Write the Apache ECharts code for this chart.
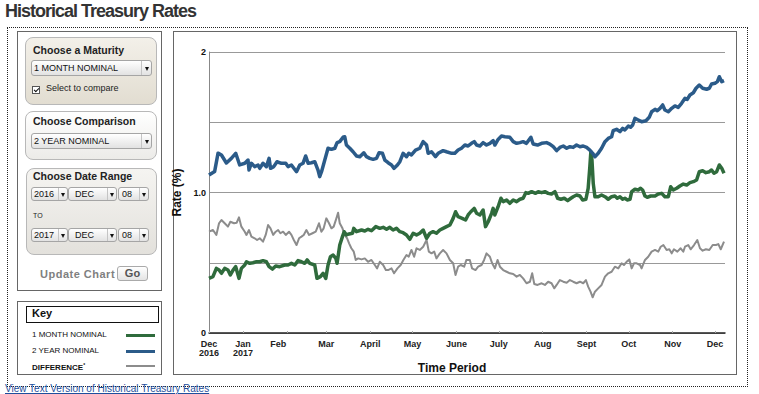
<!DOCTYPE html>
<html><head><meta charset="utf-8">
<script src="https://cdn.jsdelivr.net/npm/echarts@6/dist/echarts.min.js"></script>
<style>
html,body{margin:0;padding:0;background:#fff;width:759px;height:394px;overflow:hidden;font-family:"Liberation Sans",Arial,Helvetica,sans-serif;}
.a{position:absolute;white-space:nowrap;}
#title{left:5px;top:2px;font-size:18px;line-height:18px;font-weight:bold;letter-spacing:-1px;color:#333;}
#outer{left:7px;top:27px;width:739px;height:358px;border:1px dotted #222;}
.box{border:1px solid #666;background:#fff;}
.grp{border:1px solid #b8b8b8;border-radius:8px;}
.gt{font-size:10.5px;line-height:10.5px;font-weight:bold;color:#222;}
.sel{border:1px solid #a5a5a5;border-radius:3px;background:linear-gradient(#ffffff,#e2e2e2);box-sizing:border-box;font-size:9px;color:#111;}
.arr{position:absolute;right:0;top:0;bottom:0;border-left:1px solid #c4c4c4;}
.arr:after{content:'';position:absolute;left:50%;top:50%;margin-left:-2px;margin-top:-1px;border-left:2px solid transparent;border-right:2px solid transparent;border-top:4px solid #111;}
.k{font-size:8px;line-height:8px;color:#111;}
#chart{position:absolute;left:0;top:0;width:759px;height:394px;z-index:5;pointer-events:none;}
</style></head>
<body>
<div class="a" id="title">Historical Treasury Rates</div>
<div class="a" id="outer"></div>

<div class="a box" style="left:17px;top:31px;width:143px;height:258px;"></div>
<div class="a grp" style="left:25px;top:37px;width:130px;height:66px;background:linear-gradient(#f3f0e9,#e2ddd1);"></div>
<div class="a gt" style="left:33px;top:45px;">Choose a Maturity</div>
<div class="a sel" style="left:31px;top:60px;width:121px;height:16px;line-height:14px;padding-left:2px;">1 MONTH NOMINAL<div class="arr" style="width:9px;"></div></div>
<div class="a" style="left:32px;top:86px;width:6px;height:6px;border:1px solid #555;background:#fff;"><div style="position:absolute;left:1.5px;top:-0.5px;width:2px;height:4px;border-right:1.3px solid #111;border-bottom:1.3px solid #111;transform:rotate(45deg);"></div></div>
<div class="a" style="left:46px;top:84px;font-size:9px;line-height:9px;color:#222;">Select to compare</div>

<div class="a grp" style="left:25px;top:111px;width:130px;height:47px;background:linear-gradient(#ffffff,#ecebe8);"></div>
<div class="a gt" style="left:33px;top:116px;">Choose Comparison</div>
<div class="a sel" style="left:31px;top:133px;width:121px;height:16px;line-height:14px;padding-left:2px;">2 YEAR NOMINAL<div class="arr" style="width:9px;"></div></div>

<div class="a grp" style="left:26px;top:168px;width:129px;height:85px;background:linear-gradient(#f5f4f1,#e3e1dc);"></div>
<div class="a gt" style="left:33px;top:171px;">Choose Date Range</div>
<div class="a sel" style="left:31px;top:187px;width:37px;height:14px;line-height:12px;padding-left:2px;">2016<div class="arr" style="width:8px;"></div></div>
<div class="a sel" style="left:68px;top:187px;width:49px;height:14px;line-height:12px;padding-left:6px;">DEC<div class="arr" style="width:8px;"></div></div>
<div class="a sel" style="left:118px;top:187px;width:31px;height:14px;line-height:12px;padding-left:3px;">08<div class="arr" style="width:8px;"></div></div>
<div class="a" style="left:33px;top:212px;font-size:7px;line-height:7px;color:#222;">TO</div>
<div class="a sel" style="left:31px;top:228px;width:37px;height:14px;line-height:12px;padding-left:2px;">2017<div class="arr" style="width:8px;"></div></div>
<div class="a sel" style="left:68px;top:228px;width:49px;height:14px;line-height:12px;padding-left:6px;">DEC<div class="arr" style="width:8px;"></div></div>
<div class="a sel" style="left:118px;top:228px;width:31px;height:14px;line-height:12px;padding-left:3px;">08<div class="arr" style="width:8px;"></div></div>
<div class="a" style="left:40px;top:269px;font-size:11px;line-height:11px;font-weight:bold;letter-spacing:0.5px;color:#808080;">Update Chart</div>
<div class="a" style="left:117px;top:266px;width:29px;height:13px;border:1px solid #aaa;border-radius:3px;background:linear-gradient(#ffffff,#e4e4e4);font-size:11px;line-height:13px;font-weight:bold;color:#555;text-align:center;">Go</div>

<div class="a box" style="left:17px;top:301px;width:143px;height:72px;"></div>
<div class="a" style="left:26px;top:306px;width:131px;height:15px;border:1px solid #111;"></div>
<div class="a" style="left:32px;top:308px;font-size:11px;line-height:11px;font-weight:bold;color:#111;">Key</div>
<div class="a k" style="left:32px;top:331px;">1 MONTH NOMINAL</div>
<div class="a" style="left:126px;top:334px;width:29px;height:3px;background:#2f6b3c;"></div>
<div class="a k" style="left:32px;top:347px;">2 YEAR NOMINAL</div>
<div class="a" style="left:126px;top:350px;width:29px;height:3px;background:#2b5b89;"></div>
<div class="a k" style="left:32px;top:361px;font-weight:bold;">DIFFERENCE<sup style="font-size:5px;vertical-align:3px;">*</sup></div>
<div class="a" style="left:126px;top:365px;width:29px;height:2px;background:#8c8c8c;"></div>

<div class="a box" style="left:173px;top:31px;width:562px;height:342px;"></div>
<div class="a" style="left:5px;top:384px;font-size:10px;line-height:10px;color:#1f4f9c;text-decoration:underline;">View Text Version of Historical Treasury Rates</div>

<div id="chart"></div>
<script>
// x positions are days after 2016-12-08
const xTickDays = [0, 24, 55, 83, 114, 144, 175, 205, 236, 267, 297, 328, 358];
const xLabelDays = [0, 24, 49, 83, 114, 144, 175, 205, 236, 267, 297, 328, 358];
const xLabels = ['Dec\n2016', 'Jan\n2017', 'Feb', 'Mar', 'April', 'May', 'June', 'July', 'Aug', 'Sept', 'Oct', 'Nov', 'Dec'];
const yLabelValues = [0, 1, 2];
const yLabels = ['0', '1.0', '2'];

const twoYearDays = [0,4.0,6.4,8.8,12.3,15.8,18.9,21.7,25.3,27.6,28.3,30.0,32.3,34.7,35.9,38.2,40.6,42.5,43.5,45.8,48.1,51.2,54.3,55.9,58.3,61.9,64.2,66.5,68.4,70.1,72.5,74.8,77.1,78.3,79.6,81.9,84.2,86.6,89.0,90.6,92.5,94.8,96.0,97.2,99.6,101.9,104.3,106.7,109.5,111.4,113.7,116.1,118.5,120.3,122.7,124.4,126.7,129.1,130.9,133.3,135.0,137.3,139.7,141.3,143.2,146.1,149.1,151.5,153.9,155.0,157.4,160.2,162.1,165.6,168.0,171.6,173.9,176.2,178.6,181.0,183.3,185.7,187.6,189.3,191.6,193.9,196.3,198.7,201.0,202.2,204.5,206.9,209.3,212.8,215.2,217.6,219.9,222.2,224.6,227.7,229.3,232.4,235.3,238.8,241.1,243.5,245.9,248.2,250.6,253.0,255.3,257.6,260.0,262.4,264.7,267.1,269.4,271.4,273.0,275.3,277.7,280.1,282.4,284.8,285.9,288.3,290.7,292.6,294.2,296.6,298.2,299.7,301.3,303.6,306.0,309.1,311.4,313.1,315.5,317.1,319.0,320.9,322.5,324.9,327.3,329.6,331.9,334.3,336.7,338.3,340.2,342.6,344.5,346.8,349.2,352.0,353.9,355.5,357.9,359.6,361.0,362.7,364.3];
const twoYearRates = [1.125,1.15,1.28,1.267,1.21,1.243,1.279,1.196,1.208,1.231,1.16,1.208,1.184,1.196,1.172,1.208,1.184,1.243,1.172,1.184,1.219,1.208,1.208,1.184,1.196,1.148,1.196,1.208,1.26,1.208,1.212,1.219,1.16,1.113,1.148,1.231,1.315,1.307,1.315,1.355,1.362,1.393,1.397,1.338,1.315,1.29,1.26,1.255,1.283,1.255,1.243,1.236,1.243,1.283,1.279,1.231,1.212,1.196,1.172,1.196,1.219,1.279,1.255,1.279,1.267,1.302,1.315,1.362,1.338,1.279,1.29,1.255,1.279,1.298,1.29,1.279,1.279,1.302,1.315,1.338,1.331,1.35,1.362,1.338,1.331,1.355,1.338,1.35,1.369,1.338,1.378,1.402,1.397,1.393,1.362,1.35,1.355,1.362,1.35,1.393,1.345,1.338,1.35,1.355,1.345,1.326,1.298,1.321,1.331,1.315,1.326,1.321,1.338,1.326,1.331,1.321,1.302,1.279,1.255,1.279,1.315,1.362,1.385,1.397,1.44,1.45,1.433,1.457,1.445,1.473,1.464,1.48,1.528,1.516,1.504,1.511,1.535,1.575,1.592,1.582,1.599,1.623,1.587,1.575,1.599,1.616,1.606,1.635,1.67,1.663,1.694,1.71,1.742,1.765,1.742,1.735,1.742,1.772,1.777,1.789,1.824,1.789,1.796];

const oneMonthDays = [0,2.8,5.2,7.1,8.8,11.1,13.4,15.1,17.0,18.9,21.2,22.9,25.3,26.5,28.8,31.1,33.5,35.9,38.2,40.6,42.5,44.9,47.2,50.0,53.6,55.9,58.3,60.7,63.0,65.4,67.7,69.4,71.3,74.8,76.4,78.8,80.7,82.6,84.2,85.9,87.8,89.7,90.6,92.5,94.4,95.6,97.2,99.1,101.5,102.4,104.3,107.9,110.2,112.5,114.9,118.0,120.8,123.2,125.6,127.9,130.2,132.6,135.0,137.3,139.7,142.0,144.4,146.8,149.1,151.5,153.9,156.2,158.5,160.9,163.3,165.6,168.0,170.4,172.7,174.4,176.2,179.1,181.5,183.3,185.2,187.6,189.3,191.6,193.9,195.6,197.5,199.9,201.0,202.2,204.5,206.5,208.1,210.5,212.8,215.2,217.6,219.9,222.2,224.1,225.8,228.2,231.0,232.9,235.3,237.6,239.9,242.3,244.7,246.6,248.9,251.3,253.7,256.0,257.6,260.0,262.4,264.3,266.6,268.2,269.4,270.1,270.9,271.8,273.0,275.3,277.7,280.1,282.4,284.8,287.1,288.8,290.7,292.6,294.2,295.8,297.8,299.0,301.3,303.6,305.3,306.7,308.4,310.0,312.4,315.5,317.8,320.2,322.5,324.9,326.6,328.4,330.8,333.1,335.5,337.9,340.2,342.6,344.9,346.8,349.2,351.5,353.9,355.5,357.2,359.1,361.0,362.7,364.3];
const oneMonthRates = [0.389,0.401,0.46,0.448,0.425,0.46,0.448,0.413,0.448,0.472,0.389,0.46,0.484,0.507,0.496,0.5,0.507,0.507,0.515,0.507,0.472,0.455,0.477,0.472,0.484,0.484,0.496,0.484,0.515,0.507,0.496,0.52,0.496,0.484,0.389,0.401,0.425,0.389,0.484,0.543,0.555,0.531,0.496,0.626,0.686,0.721,0.698,0.705,0.71,0.745,0.721,0.733,0.726,0.738,0.728,0.757,0.745,0.752,0.738,0.752,0.733,0.745,0.721,0.714,0.698,0.667,0.71,0.698,0.71,0.733,0.674,0.71,0.721,0.71,0.733,0.745,0.757,0.769,0.816,0.863,0.828,0.816,0.804,0.84,0.863,0.887,0.852,0.84,0.875,0.757,0.792,0.852,0.887,0.84,0.899,0.959,0.935,0.947,0.923,0.947,0.935,0.952,0.959,0.999,0.994,1.006,0.994,1.006,0.999,1.006,0.994,0.989,1.006,0.959,0.952,0.959,0.942,0.959,0.97,0.982,0.975,0.947,0.952,1.03,1.184,1.29,1.231,1.065,0.97,0.97,0.982,0.97,0.952,0.97,0.975,0.959,0.97,0.952,0.959,0.947,0.952,1.006,1.023,1.018,1.03,1.018,0.975,0.966,0.975,0.975,0.989,0.994,0.97,0.97,1.041,1.018,1.03,1.046,1.06,1.053,1.07,1.077,1.089,1.148,1.155,1.141,1.148,1.16,1.137,1.148,1.196,1.172,1.137];

const diffDays = [0,2.8,5.2,7.1,8.8,11.1,13.4,15.1,17.7,19.6,21.2,22.9,25.3,26.5,28.3,30.0,32.3,34.0,35.9,38.2,40.1,41.8,43.5,45.4,47.2,48.9,50.5,52.4,54.3,56.6,58.3,60.0,61.9,63.7,65.4,67.0,68.9,70.8,73.2,75.5,77.8,79.5,81.1,83.0,84.9,86.6,88.2,90.1,91.3,92.5,94.4,96.0,97.7,99.1,100.7,102.4,103.8,105.5,107.9,110.2,112.5,114.9,117.3,118.9,120.8,123.2,125.1,126.7,129.1,130.9,133.3,135.6,137.5,139.7,141.3,143.2,145.1,146.8,149.1,151.5,153.9,155.5,157.4,159.3,160.9,163.3,165.6,168.0,170.4,172.7,174.4,176.2,178.1,180.5,182.1,184.5,186.1,188.5,190.4,192.8,194.6,196.3,198.7,200.3,202.2,204.1,205.8,208.1,210.5,212.8,215.2,217.6,219.9,222.2,224.6,227.0,228.6,230.1,232.4,235.3,237.6,239.9,242.3,244.2,245.9,248.2,250.6,253.0,255.3,257.6,260.0,262.4,264.7,266.6,268.2,269.9,271.4,273.0,275.3,277.7,280.1,282.4,284.8,287.1,289.5,291.9,293.5,295.4,297.3,299.0,300.6,302.5,304.9,306.0,308.4,310.7,313.1,315.5,317.8,319.5,321.4,323.7,325.6,327.3,328.9,331.3,333.6,335.5,336.7,339.0,340.7,343.1,345.4,347.3,349.2,351.5,353.9,356.3,358.6,360.3,362.0,364.3];
const diffRates = [0.721,0.733,0.698,0.781,0.804,0.781,0.757,0.792,0.781,0.785,0.823,0.757,0.721,0.698,0.733,0.686,0.674,0.662,0.674,0.65,0.698,0.769,0.745,0.698,0.721,0.733,0.71,0.721,0.698,0.721,0.698,0.662,0.626,0.674,0.686,0.698,0.733,0.698,0.71,0.721,0.781,0.721,0.745,0.816,0.781,0.745,0.757,0.816,0.856,0.781,0.745,0.698,0.674,0.638,0.603,0.579,0.52,0.531,0.524,0.531,0.507,0.52,0.484,0.46,0.507,0.484,0.448,0.448,0.46,0.425,0.46,0.484,0.52,0.555,0.543,0.591,0.543,0.603,0.591,0.614,0.662,0.579,0.567,0.579,0.531,0.567,0.591,0.567,0.52,0.496,0.413,0.472,0.484,0.472,0.52,0.52,0.46,0.448,0.472,0.484,0.52,0.567,0.543,0.496,0.46,0.52,0.472,0.448,0.436,0.425,0.42,0.401,0.413,0.389,0.354,0.365,0.425,0.349,0.342,0.354,0.342,0.365,0.354,0.318,0.342,0.377,0.365,0.358,0.377,0.365,0.354,0.365,0.354,0.377,0.33,0.294,0.254,0.294,0.318,0.342,0.401,0.425,0.436,0.472,0.46,0.496,0.484,0.507,0.524,0.46,0.496,0.496,0.484,0.46,0.52,0.543,0.579,0.591,0.579,0.614,0.626,0.591,0.596,0.567,0.596,0.579,0.603,0.579,0.614,0.626,0.596,0.626,0.662,0.603,0.586,0.596,0.591,0.626,0.626,0.633,0.596,0.65];

const zip = (xs, ys) => xs.map((x, i) => [x, ys[i]]);
const FONT = '"Liberation Sans", Arial, Helvetica, sans-serif';

const chart = echarts.init(document.getElementById('chart'), null, {renderer: 'svg', width: 759, height: 394});
chart.setOption({
  animation: false,
  grid: {left: 209, top: 52, width: 516, height: 281, containLabel: false},
  xAxis: {
    type: 'value', min: 0, max: 365,
    name: 'Time Period', nameLocation: 'middle', nameGap: 26,
    nameTextStyle: {fontFamily: FONT, fontSize: 12, fontWeight: 'bold', color: '#111', padding: [0, 30, 0, 0]},
    axisLine: {show: true, onZero: false, lineStyle: {color: '#222', width: 1.5}},
    axisTick: {show: true, inside: true, length: 2, customValues: xTickDays, lineStyle: {color: '#aaa', width: 1}},
    axisLabel: {
      customValues: xLabelDays,
      formatter: v => { const i = xLabelDays.indexOf(v); return i >= 0 ? xLabels[i] : ''; },
      fontFamily: FONT, fontSize: 9, fontWeight: 'bold', color: '#222', lineHeight: 9, margin: 6
    },
    splitLine: {show: false}
  },
  yAxis: {
    type: 'value', min: 0, max: 2, interval: 0.5,
    name: 'Rate (%)', nameLocation: 'middle', nameGap: 17,
    nameTextStyle: {fontFamily: FONT, fontSize: 12, fontWeight: 'bold', color: '#111'},
    axisLine: {show: true, lineStyle: {color: '#888', width: 1}},
    axisTick: {show: false},
    axisLabel: {
      customValues: yLabelValues,
      formatter: v => { const i = yLabelValues.indexOf(v); return i >= 0 ? yLabels[i] : ''; },
      fontFamily: FONT, fontSize: 9, fontWeight: 'bold', color: '#111', margin: 3
    },
    splitLine: {show: true, lineStyle: {color: '#999', width: 1}}
  },
  series: [
    {name: 'DIFFERENCE', type: 'line', data: zip(diffDays, diffRates), symbol: 'none', silent: true,
     lineStyle: {color: '#8c8c8c', width: 2, join: 'round'}, itemStyle: {color: '#8c8c8c'}},
    {name: '1 MONTH NOMINAL', type: 'line', data: zip(oneMonthDays, oneMonthRates), symbol: 'none', silent: true,
     lineStyle: {color: '#2f6b3c', width: 3.5, join: 'round'}, itemStyle: {color: '#2f6b3c'}},
    {name: '2 YEAR NOMINAL', type: 'line', data: zip(twoYearDays, twoYearRates), symbol: 'none', silent: true,
     lineStyle: {color: '#2b5b89', width: 3.5, join: 'round'}, itemStyle: {color: '#2b5b89'}}
  ]
});
</script>
</body></html>
